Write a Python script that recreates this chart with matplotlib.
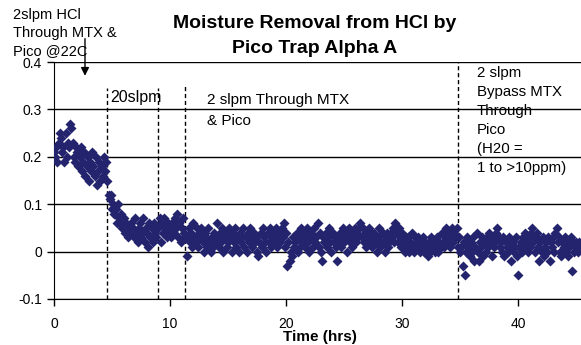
import numpy as np
import matplotlib.pyplot as plt
from matplotlib.ticker import FuncFormatter

plt.rcParams['font.family'] = ['Liberation Sans', 'DejaVu Sans']

# moisture readings, one every 0.1 hr
seg_hcl_22c = [0.21, 0.20, 0.22, 0.19, 0.23, 0.25, 0.24, 0.21, 0.22, 0.19,
               0.25, 0.20, 0.23, 0.22, 0.27, 0.26, 0.23, 0.20, 0.19, 0.22,
               0.21, 0.18, 0.20, 0.22, 0.17, 0.19, 0.21, 0.16, 0.18, 0.20,
               0.15, 0.19, 0.17, 0.21, 0.18, 0.16, 0.20, 0.14, 0.17, 0.19,
               0.15, 0.18, 0.16, 0.20, 0.17, 0.19]
seg_20slpm = [0.15, 0.12, 0.11, 0.12, 0.09, 0.10, 0.08, 0.09, 0.06, 0.10,
              0.07, 0.06, 0.08, 0.05, 0.07, 0.04, 0.06, 0.05, 0.03, 0.05,
              0.06, 0.04, 0.05, 0.03, 0.07, 0.04, 0.02, 0.05, 0.06, 0.03,
              0.04, 0.07, 0.02, 0.05, 0.04, 0.01, 0.06, 0.03, 0.05, 0.02,
              0.06, 0.04, 0.03, 0.05]
seg_gap = [0.05, 0.07, 0.02, 0.06, 0.04, 0.07, 0.05, 0.03, 0.06, 0.04,
           0.05, 0.03, 0.06, 0.04, 0.07, 0.05, 0.08, 0.03, 0.06, 0.02,
           0.05, 0.07, 0.04, 0.03]
seg_mtx_pico = [0.03, -0.01, 0.05, 0.02, 0.04, 0.01, 0.06, 0.03, 0.02, 0.05,
                0.01, 0.04, 0.03, 0.05, 0.02, 0.00, 0.04, 0.03, 0.01, 0.05,
                0.02, 0.00, 0.03, 0.01, 0.04, 0.02, 0.06, 0.03, 0.01, 0.04,
                0.02, 0.05, 0.00, 0.03, 0.04, 0.01, 0.02, 0.05, 0.03, 0.00,
                0.04, 0.02, 0.05, 0.01, 0.03, 0.00, 0.04, 0.02, 0.03, 0.05,
                0.01, 0.03, 0.00, 0.04, 0.02, 0.05, 0.03, 0.01, 0.04, 0.02,
                0.03, 0.00, -0.01, 0.02, 0.04, 0.01, 0.05, 0.03, 0.02, 0.00,
                0.04, 0.02, 0.05, 0.01, 0.03, 0.04, 0.02, 0.05, 0.01, 0.03,
                0.04, 0.02, 0.05, 0.03, 0.06, 0.01, 0.04, -0.03, 0.02, -0.02,
                0.00, -0.01, 0.03, 0.01, 0.02, 0.04, 0.00, 0.03, 0.01, 0.05,
                0.02, 0.04, 0.01, 0.03, 0.05, 0.02, 0.00, 0.04, 0.03, 0.01,
                0.05, 0.02, 0.03, 0.06, 0.01, 0.04, 0.00, -0.02, 0.03, 0.02,
                0.04, 0.01, 0.03, 0.05, 0.02, 0.00, 0.04, 0.02, 0.03, 0.01,
                -0.02, 0.02, 0.04, 0.01, 0.03, 0.05, 0.02, 0.04, 0.00, 0.03,
                0.05, 0.02, 0.04, 0.01, 0.03, 0.05, 0.02, 0.04, 0.03, 0.05,
                0.06, 0.03, 0.05, 0.02, 0.04, 0.01, 0.03, 0.05, 0.02, 0.04,
                0.01, 0.03, 0.04, 0.02, 0.00, 0.03, 0.05, 0.01, 0.02, 0.04,
                0.02, 0.00, 0.03, 0.04, 0.01, 0.02, 0.04, 0.03, 0.05, 0.02,
                0.06, 0.04, 0.02, 0.05, 0.03, 0.01, 0.04, 0.02, 0.00, 0.03,
                0.01, 0.03, 0.00, 0.02, 0.04, 0.01, 0.00, 0.03, 0.02, 0.01,
                0.03, 0.00, 0.02, 0.01, 0.03, 0.00, 0.02, 0.01, -0.01, 0.02,
                0.00, 0.03, 0.01, 0.02, 0.00, 0.01, 0.03, 0.00, 0.02, 0.01,
                0.04, 0.02, 0.01, 0.03, 0.05, 0.02, 0.04, 0.01, 0.03, 0.05,
                0.02, 0.04, 0.03, 0.05, 0.01, 0.03, 0.00]
seg_bypass = [0.01, -0.03, 0.02, -0.05, 0.00, 0.03, 0.01, -0.01, 0.02, 0.00,
              0.03, -0.02, 0.01, 0.04, 0.00, -0.02, 0.02, 0.01, 0.03, -0.01,
              0.02, 0.00, 0.03, 0.01, 0.04, 0.02, -0.01, 0.03, 0.01, 0.02,
              0.04, 0.05, 0.03, 0.01, 0.02, 0.00, 0.03, -0.01, 0.02, 0.01,
              0.00, 0.03, 0.01, -0.02, 0.02, 0.00, 0.01, 0.03, -0.01, -0.05,
              0.01, 0.02, 0.00, 0.03, 0.01, 0.04, 0.02, 0.00, 0.03, 0.01,
              0.04, 0.05, 0.02, 0.00, 0.03, 0.04, 0.01, -0.02, 0.02, 0.00,
              0.03, -0.01, 0.01, 0.02, 0.00, 0.03, -0.02, 0.02, 0.01, 0.03,
              0.00, 0.04, 0.05, 0.02, 0.03, 0.00, -0.01, 0.02, 0.01, 0.03,
              0.00, 0.02, -0.01, 0.01, 0.03, -0.04, 0.02, 0.00, 0.01, 0.02,
              0.00, 0.02, 0.01]

moisture = np.array(seg_hcl_22c + seg_20slpm + seg_gap + seg_mtx_pico + seg_bypass)
hours = np.round(np.arange(len(moisture)) * 0.1, 1)

# flow changes (hrs) and where their dashed lines stop
changes = [4.6, 9.0, 11.3, 34.8]
change_tops = [0.345, 0.345, 0.35, 0.4]

fig = plt.figure(figsize=(5.81, 3.45), dpi=100)
ax = fig.add_axes([54/581, 46/345, 1 - 54/581, 237/345])

ax.scatter(hours, moisture, marker='D', s=26, color='#23236e', linewidths=0, zorder=3)

for x, top in zip(changes, change_tops):
    ax.vlines(x, -0.1, top, colors='black', linestyles=(0, (3, 2)), linewidth=1, zorder=2)

ax.set_xlim(0, 45.4)
ax.set_ylim(-0.1, 0.4)
ax.set_xticks([0, 10, 20, 30, 40])
ax.set_yticks([-0.1, 0, 0.1, 0.2, 0.3, 0.4])
ax.yaxis.set_major_formatter(FuncFormatter(lambda v, p: '0' if abs(v) < 1e-9 else f'{v:g}'))
ax.tick_params(direction='out', length=5, width=1, labelsize=10, colors='black')
ax.tick_params(axis='x', pad=8)
ax.grid(axis='y', color='black', linewidth=1, zorder=1)
ax.spines['right'].set_visible(False)
ax.spines['top'].set_visible(False)
ax.set_axisbelow(True)

ax.set_xlabel('Time (hrs)', fontsize=11, fontweight='bold')
ax.xaxis.set_label_coords(0.505, -0.16)
ax.xaxis.label.set_va('center')

fig.text(315/581, 1 - 15/345, 'Moisture Removal from HCl by\nPico Trap Alpha A',
         ha='center', va='top', fontsize=14, fontweight='bold', linespacing=1.65)
fig.text(13/581, 1 - 8/345, '2slpm HCl\nThrough MTX &\nPico @22C',
         ha='left', va='top', fontsize=10.5, linespacing=1.36)
ax.annotate('', xy=(2.67, 0.365), xytext=(2.67, 0.455),
            arrowprops=dict(arrowstyle='-|>', color='black', lw=1, mutation_scale=12),
            annotation_clip=False)

ax.text(4.85, 0.326, '20slpm', fontsize=11.5, va='center', ha='left')
ax.text(13.2, 0.334, '2 slpm Through MTX\n& Pico', fontsize=11, va='top', ha='left',
        linespacing=1.65)
ax.text(36.4, 0.392, '2 slpm\nBypass MTX\nThrough\nPico\n(H20 =\n1 to >10ppm)',
        fontsize=10.8, va='top', ha='left', linespacing=1.45)

fig.savefig('out.png', dpi=100)
